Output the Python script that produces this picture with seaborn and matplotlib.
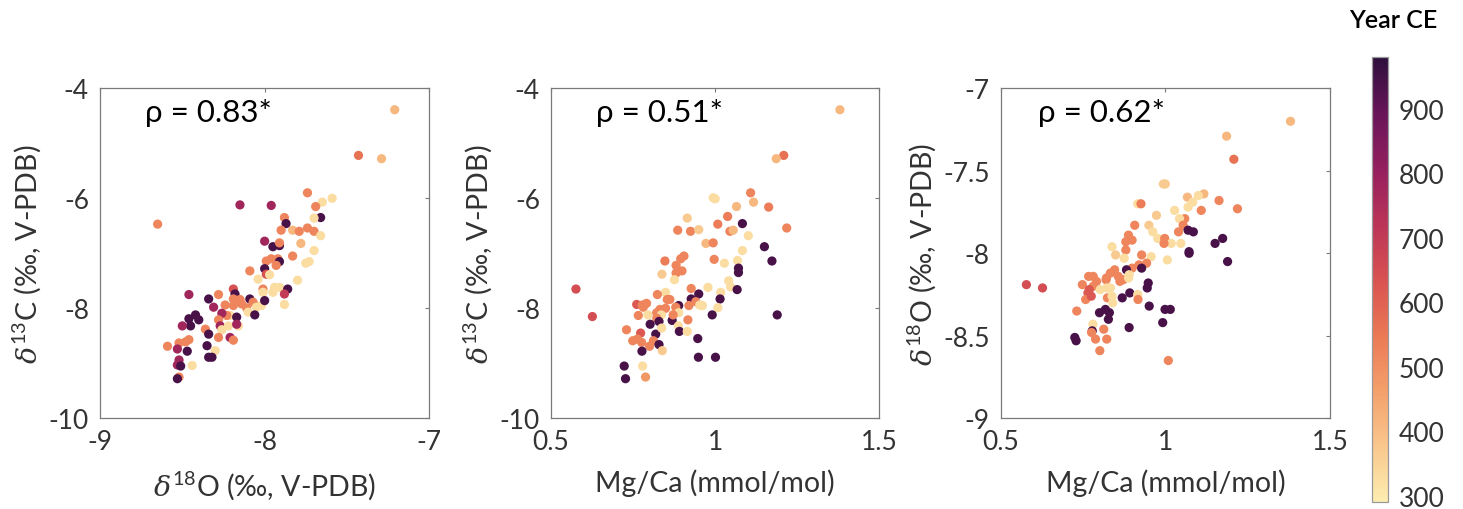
import numpy as np
import pandas as pd
import matplotlib
matplotlib.use("Agg")
import matplotlib.pyplot as plt
import seaborn as sns
from matplotlib.colors import LinearSegmentedColormap, Normalize
from matplotlib.cm import ScalarMappable

# ---------------- data ----------------
# Panel 1: d13C vs d18O
p1_d18O = [-7.21, -7.43, -7.29, -8.65, -8.15, -7.96, -7.74, -7.59, -7.65, -7.69,
           -7.66, -7.70, -7.88, -7.87, -7.90, -7.83, -7.79, -7.74, -7.70, -7.66,
           -7.78, -8.00, -7.95, -7.91, -7.91, -7.70, -7.83, -7.73, -7.75, -7.99,
           -7.96, -7.92, -7.91, -7.93, -8.00, -8.09, -7.99, -8.04, -7.97, -7.80,
           -7.94, -7.91, -7.86, -8.01, -8.01, -7.95, -7.88, -7.88, -8.19, -8.18,
           -8.28, -8.46, -8.34, -8.31, -8.24, -8.19, -8.15, -8.19, -8.14, -8.09,
           -8.07, -8.11, -8.10, -8.05, -8.02, -8.00, -8.06, -8.21, -8.23, -8.26,
           -8.28, -8.27, -8.26, -8.22, -8.17, -8.16, -8.17, -8.42, -8.40, -8.46,
           -8.45, -8.50, -8.36, -8.34, -8.28, -8.21, -8.19, -8.35, -8.30, -8.34,
           -8.32, -8.47, -8.52, -8.48, -8.46, -8.59, -8.53, -8.52, -8.53, -8.51,
           -8.44, -8.52, -8.53]
p1_d13C = [-4.39, -5.22, -5.28, -6.47, -6.12, -6.13, -5.90, -6.00, -6.07, -6.15,
           -6.35, -6.36, -6.35, -6.46, -6.58, -6.58, -6.60, -6.54, -6.60, -6.68,
           -6.82, -6.78, -6.88, -6.86, -6.81, -6.95, -7.05, -7.15, -7.18, -7.14,
           -7.10, -7.10, -7.15, -7.22, -7.28, -7.32, -7.38, -7.47, -7.39, -7.49,
           -7.62, -7.62, -7.65, -7.65, -7.71, -7.71, -7.74, -7.93, -7.65, -7.74,
           -7.75, -7.75, -7.83, -7.98, -7.94, -7.83, -7.84, -7.95, -7.92, -7.83,
           -7.89, -7.99, -8.07, -7.98, -7.95, -7.86, -8.12, -8.13, -8.13, -8.09,
           -8.21, -8.32, -8.39, -8.32, -8.16, -8.32, -8.29, -8.12, -8.21, -8.19,
           -8.32, -8.32, -8.38, -8.47, -8.53, -8.53, -8.58, -8.68, -8.77, -8.89,
           -8.89, -8.78, -8.63, -8.61, -8.57, -8.69, -8.74, -8.94, -9.03, -9.05,
           -9.04, -9.25, -9.28]
p1_year = [410, 560, 410, 520, 780, 780, 520, 330, 330, 520,
           940, 330, 520, 940, 520, 410, 520, 520, 520, 330,
           410, 780, 940, 940, 520, 330, 520, 330, 330, 520,
           520, 520, 940, 520, 940, 520, 640, 330, 330, 330,
           330, 330, 940, 520, 330, 330, 700, 330, 640, 940,
           520, 780, 940, 780, 520, 520, 520, 520, 520, 940,
           520, 520, 330, 330, 330, 940, 940, 330, 520, 780,
           520, 780, 330, 330, 940, 330, 780, 940, 940, 940,
           940, 780, 520, 940, 520, 780, 520, 940, 330, 940,
           940, 940, 520, 520, 520, 520, 780, 780, 780, 940,
           330, 520, 940]

# Panel 2: d13C vs Mg/Ca
p2_mgca = [1.380, 1.209, 1.186, 1.108, 0.994, 1.000, 1.117, 1.163, 1.065, 1.038,
           0.915, 1.008, 1.083, 0.886, 0.925, 0.950, 1.045, 1.055, 1.218, 1.101,
           0.972, 0.994, 1.150, 1.083, 0.905, 0.895, 0.847, 0.997, 1.028, 1.068,
           1.173, 0.881, 0.899, 0.881, 0.838, 0.876, 1.071, 1.071, 1.041, 1.047,
           0.978, 1.017, 1.067, 0.927, 0.849, 0.824, 0.950, 0.854, 0.862, 0.927,
           1.015, 0.941, 0.953, 0.961, 0.920, 0.889, 0.880, 0.849, 0.832, 1.008,
           0.991, 0.761, 0.778, 0.791, 0.781, 0.766, 0.795, 0.822, 0.836, 0.822,
           0.829, 0.869, 0.889, 0.872, 0.917, 0.888, 0.802, 0.730, 0.773, 0.819,
           0.837, 0.891, 0.915, 0.947, 0.749, 0.763, 0.776, 0.812, 0.800, 0.829,
           0.839, 0.777, 0.949, 1.001, 1.189, 0.576, 0.626, 0.723, 0.727, 0.779,
           0.788]
p2_d13C = [-4.39, -5.22, -5.28, -5.90, -5.99, -6.01, -6.07, -6.16, -6.15, -6.33,
           -6.36, -6.47, -6.46, -6.58, -6.60, -6.57, -6.60, -6.58, -6.54, -6.68,
           -6.82, -6.81, -6.88, -6.95, -7.05, -7.10, -7.14, -7.11, -7.18, -7.13,
           -7.14, -7.22, -7.32, -7.36, -7.38, -7.48, -7.27, -7.35, -7.50, -7.61,
           -7.62, -7.71, -7.66, -7.64, -7.71, -7.75, -7.74, -7.84, -7.84, -7.83,
           -7.83, -7.88, -7.94, -7.95, -7.95, -7.95, -7.98, -8.00, -8.02, -7.99,
           -8.12, -7.93, -7.94, -7.91, -7.98, -8.13, -8.12, -8.08, -8.12, -8.18,
           -8.24, -8.22, -8.08, -8.12, -8.21, -8.32, -8.29, -8.39, -8.45, -8.47,
           -8.36, -8.42, -8.42, -8.55, -8.59, -8.56, -8.62, -8.59, -8.69, -8.66,
           -8.77, -8.78, -8.89, -8.89, -8.12, -7.65, -8.15, -9.05, -9.28, -9.05,
           -9.25]
p2_year = [410, 560, 410, 520, 330, 330, 410, 540, 410, 540,
           370, 540, 940, 520, 520, 370, 520, 410, 520, 330,
           410, 520, 940, 330, 520, 520, 540, 520, 330, 330,
           940, 520, 520, 520, 370, 330, 940, 940, 330, 330,
           330, 330, 940, 520, 330, 520, 940, 520, 520, 940,
           940, 520, 330, 330, 520, 940, 520, 520, 520, 330,
           940, 620, 520, 520, 520, 520, 330, 520, 330, 520,
           940, 940, 330, 520, 520, 330, 940, 520, 620, 940,
           330, 940, 330, 940, 520, 520, 520, 520, 520, 940,
           370, 940, 940, 940, 940, 650, 650, 940, 940, 330,
           480]

# Panel 3: d18O vs Mg/Ca
p3_mgca = [1.380, 1.186, 1.208, 0.994, 1.000, 1.117, 1.100, 1.067, 1.163, 1.219,
           1.083, 1.069, 0.916, 0.926, 1.109, 1.028, 0.973, 1.059, 1.043, 0.907,
           0.950, 1.054, 1.069, 1.085, 1.040, 0.962, 0.888, 0.899, 0.880, 0.977,
           0.998, 1.047, 1.018, 1.151, 1.174, 0.996, 0.838, 0.849, 0.880, 0.928,
           0.875, 0.957, 1.006, 1.072, 1.072, 1.189, 0.943, 0.920, 0.899, 0.928,
           0.882, 0.846, 0.833, 0.821, 0.857, 0.872, 0.888, 0.890, 0.862, 0.767,
           0.781, 0.791, 0.748, 0.781, 0.769, 0.802, 0.820, 0.822, 0.833, 0.948,
           0.945, 0.765, 0.758, 0.775, 0.824, 0.838, 0.840, 0.869, 0.892, 0.916,
           0.917, 0.951, 0.731, 0.818, 0.800, 0.830, 0.827, 0.999, 1.015, 0.780,
           0.778, 0.890, 0.992, 0.725, 0.729, 0.776, 0.813, 0.788, 0.822, 0.801,
           1.009, 0.578, 0.627]
p3_d18O = [-7.20, -7.29, -7.43, -7.58, -7.58, -7.64, -7.65, -7.66, -7.68, -7.73,
           -7.69, -7.72, -7.70, -7.70, -7.74, -7.74, -7.77, -7.79, -7.79, -7.83,
           -7.83, -7.83, -7.86, -7.87, -7.87, -7.87, -7.89, -7.92, -7.93, -7.91,
           -7.91, -7.94, -7.94, -7.94, -7.91, -7.94, -7.96, -8.01, -7.98, -8.01,
           -8.03, -8.02, -8.04, -7.99, -8.00, -8.05, -8.06, -8.07, -8.09, -8.09,
           -8.10, -8.10, -8.12, -8.15, -8.14, -8.16, -8.15, -8.13, -8.17, -8.14,
           -8.14, -8.17, -8.19, -8.20, -8.22, -8.22, -8.16, -8.21, -8.21, -8.18,
           -8.21, -8.24, -8.28, -8.26, -8.27, -8.26, -8.30, -8.27, -8.24, -8.25,
           -8.28, -8.32, -8.35, -8.34, -8.36, -8.36, -8.40, -8.34, -8.34, -8.43,
           -8.47, -8.45, -8.42, -8.51, -8.53, -8.48, -8.46, -8.52, -8.52, -8.59,
           -8.65, -8.19, -8.21]
p3_year = [410, 410, 560, 370, 370, 410, 330, 410, 520, 520,
           330, 330, 330, 540, 520, 330, 370, 520, 330, 520,
           370, 520, 940, 940, 520, 330, 520, 520, 520, 330,
           520, 330, 330, 940, 940, 520, 330, 370, 520, 520,
           330, 330, 330, 940, 940, 940, 520, 520, 520, 940,
           940, 520, 520, 520, 520, 520, 330, 330, 520, 520,
           520, 520, 520, 520, 620, 330, 520, 330, 330, 940,
           940, 620, 520, 620, 520, 330, 330, 940, 940, 330,
           520, 940, 520, 940, 940, 940, 940, 940, 940, 330,
           940, 940, 940, 940, 940, 520, 520, 520, 520, 520,
           520, 650, 650]

rho_labels = ["ρ = 0.83*", "ρ = 0.51*", "ρ = 0.62*"]
cbar_ticks = [300, 400, 500, 600, 700, 800, 900]
year_min, year_max = 290, 980

# --------------- style ---------------
sns.set_style("white")
plt.rcParams["font.family"] = ["Lato", "DejaVu Sans"]
plt.rcParams["mathtext.fontset"] = "custom"
plt.rcParams["mathtext.rm"] = "Lato"
plt.rcParams["mathtext.it"] = "DejaVu Serif:italic"

matter_like = LinearSegmentedColormap.from_list(
    "matter_like",
    ["#fdedb0", "#f9c78d", "#f4a06b", "#eb7855", "#d85251",
     "#bb3458", "#941f5e", "#681559", "#2f0f3d"])
norm = Normalize(year_min, year_max)

fig = plt.figure(figsize=(14.63, 5.10), dpi=100)
W, H = 1463, 510
def ax_rect(l, r, t, b):
    return [l / W, (H - b) / H, (r - l) / W, (b - t) / H]

axes = [fig.add_axes(ax_rect(100, 429.3, 89.3, 419.3)),
        fig.add_axes(ax_rect(551, 879.3, 89.3, 419.3)),
        fig.add_axes(ax_rect(1000.7, 1330, 89.3, 419.3))]

panels = [
    (p1_d18O, p1_d13C, p1_year, (-9, -7), (-10, -4), [-9, -8, -7], [-10, -8, -6, -4],
     ["-9", "-8", "-7"], ["-10", "-8", "-6", "-4"],
     r"$\delta^{18}$O (‰, V-PDB)", r"$\delta^{13}$C (‰, V-PDB)", 0.136),
    (p2_mgca, p2_d13C, p2_year, (0.5, 1.5), (-10, -4), [0.5, 1, 1.5], [-10, -8, -6, -4],
     ["0.5", "1", "1.5"], ["-10", "-8", "-6", "-4"],
     "Mg/Ca (mmol/mol)", r"$\delta^{13}$C (‰, V-PDB)", 0.138),
    (p3_mgca, p3_d18O, p3_year, (0.5, 1.5), (-9, -7), [0.5, 1, 1.5], [-9, -8.5, -8, -7.5, -7],
     ["0.5", "1", "1.5"], ["-9", "-8.5", "-8", "-7.5", "-7"],
     "Mg/Ca (mmol/mol)", r"$\delta^{18}$O (‰, V-PDB)", 0.114),
]

for ax, (xs, ys, yr, xl, yl, xt, yt, xtl, ytl, xlab, ylab, rx), rho in zip(axes, panels, rho_labels):
    df = pd.DataFrame({"x": xs, "y": ys, "year": yr})
    sns.scatterplot(data=df, x="x", y="y", hue="year", palette=matter_like,
                    hue_norm=norm, legend=False, s=44, linewidth=0, alpha=1,
                    ax=ax)
    ax.set_xlim(*xl)
    ax.set_ylim(*yl)
    ax.set_xticks(xt)
    ax.set_xticklabels(xtl)
    ax.set_yticks(yt)
    ax.set_yticklabels(ytl)
    ax.set_xlabel(xlab, fontsize=20.5, color="#333333", labelpad=10)
    ax.set_ylabel(ylab, fontsize=20.5, color="#333333", labelpad=4)
    ax.tick_params(direction="in", length=3, width=0.8, colors="#7a7a7a",
                   labelcolor="#333333", labelsize=19, top=True, right=True,
                   pad=8)
    for sp in ax.spines.values():
        sp.set_color("#7a7a7a")
        sp.set_linewidth(0.9)
    ax.text(rx, 0.928, rho, transform=ax.transAxes, fontsize=22.5,
            va="center", ha="left", color="black")

cax = fig.add_axes(ax_rect(1371.7, 1387.7, 58.3, 503.3))
sm = ScalarMappable(norm=norm, cmap=matter_like)
cb = fig.colorbar(sm, cax=cax)
cb.set_ticks(cbar_ticks)
cb.ax.tick_params(direction="in", length=3, colors="#7a7a7a",
                  labelcolor="#333333", labelsize=19, pad=8)
cb.outline.set_edgecolor("#9a9a9a")
cb.outline.set_linewidth(0.9)
fig.text(1393 / W, 1 - 20 / H, "Year CE", fontsize=18, ha="center",
         va="center", color="black", fontweight="semibold")

fig.savefig("out.png", dpi=100)
